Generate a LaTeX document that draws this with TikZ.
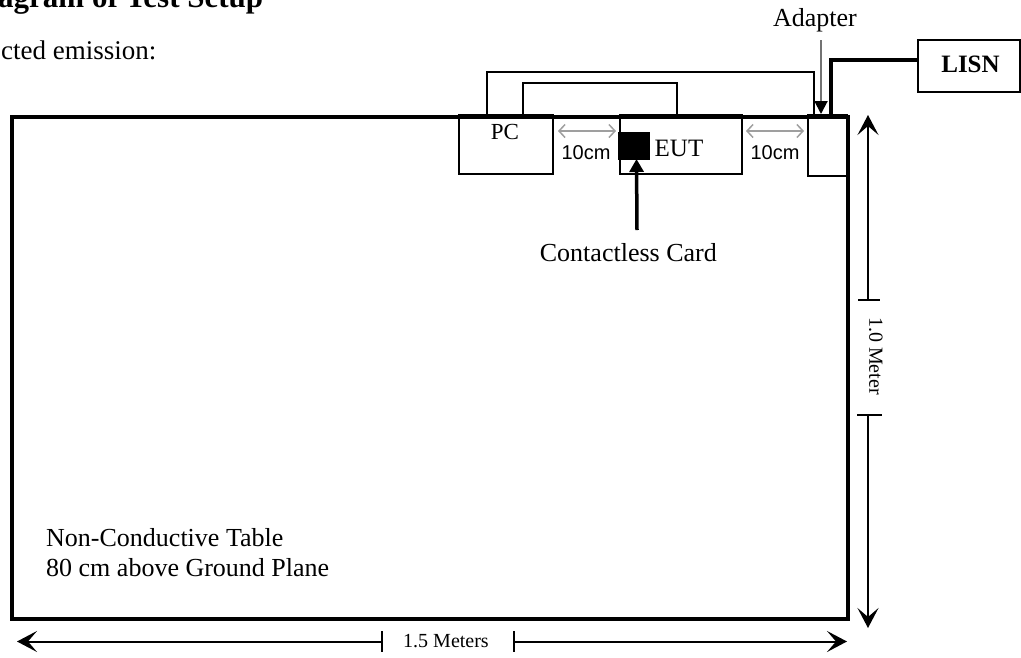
\documentclass[tikz,border=0pt]{standalone}
\usepackage{fontspec}
\setmainfont{Liberation Serif}
\newfontfamily\arialf{Liberation Sans}
\usetikzlibrary{arrows.meta}
\begin{document}
\begin{tikzpicture}[x=1pt,y=-1pt,
  fs/.style={font=\fontsize{#1}{#1}\selectfont},
  fsb/.style={font=\bfseries\fontsize{#1}{#1}\selectfont},
  fsa/.style={font=\arialf\fontsize{#1}{#1}\selectfont},
  lbl/.style={inner sep=0pt},
  box/.style={draw, line width=2pt, inner sep=0pt, anchor=north west},
  cable/.style={line width=2pt},
  gaparrow/.style={draw=gray!75, line width=1.5pt,
    {Straight Barb[length=6pt,width=13pt]}-{Straight Barb[length=6pt,width=13pt]}},
  dimline/.style={line width=2pt},
  dimtip/.style={-{Stealth[length=20pt,width=21pt,inset=9pt]}},
  tick/.style={line width=2pt}
]
\useasboundingbox (0,0) rectangle (1021,657);

% title and heading texts
\node[lbl, fsb=31, anchor=base west] (title) at (-2,7.5) {agram of Test Setup};
\node[lbl, fs=27, anchor=base west] (sub) at (1,59.5) {cted emission:};

% table
\node[box, line width=3.5pt, minimum width=836pt, minimum height=502pt] (table) at (10,115) {};

% devices
\node[box, minimum width=94pt, minimum height=59pt] (pc) at (458,114) {};
\node[box, minimum width=122pt, minimum height=59pt] (eut) at (619,114) {};
\node[box, minimum width=39pt, minimum height=61pt] (adapter) at (807,114) {};
\node[box, minimum width=102pt, minimum height=52pt] (lisn) at (917,39) {};
\node[box, draw=black, fill=black, line width=0pt, minimum width=31pt, minimum height=27pt] (card) at (618,132) {};

% device labels
\node[lbl, fs=23, anchor=base] (pclbl) at (505,139) {PC};
\node[lbl, fs=25, anchor=base] (eutlbl) at (679,156.7) {EUT};
\node[lbl, fsb=25, anchor=base] (lisnlbl) at (970.5,72.3) {LISN};
\node[lbl, fs=26, anchor=base] (adlbl) at (815,26.7) {Adapter};
\node[lbl, fs=26, anchor=base east] (cardlbl) at (717,261.7) {Contactless Card};
\node[lbl, fsa=20, anchor=base] (gap1) at (586,159.3) {10cm};
\node[lbl, fsa=20, anchor=base] (gap2) at (775,159.3) {10cm};
\node[lbl, fs=26, anchor=base west] (tbl1) at (46,546) {Non-Conductive Table};
\node[lbl, fs=26, anchor=base west] (tbl2) at (46,576) {80 cm above Ground Plane};

% cables
\draw[cable] ([xshift=29pt]pc.north west) -- ++(0,-42.5) -| ([xshift=7pt]adapter.north west);
\draw[cable] ([xshift=65pt]pc.north west) -- ++(0,-31.5) -| ([xshift=58pt]eut.north west);
\draw[line width=4pt] ([xshift=24pt]adapter.north west) |- ([yshift=6pt]lisn.west);

% adapter pointer
\coordinate (adtail) at (821,40);
\draw[draw=black!55, line width=2pt, -{Triangle[length=13pt,width=13pt,color=black]}]
  (adtail) -- ([xshift=14pt]adapter.north west);

% contactless card pointer
\coordinate (cardtail) at (637,230);
\draw[line width=3.5pt, -{Triangle[length=13pt,width=14pt]}]
  (cardtail) -- ([xshift=3pt]card.south);

% 10cm gap arrows
\draw[gaparrow] ([shift={(4,17)}]pc.north east) -- ([shift={(-3,17)}]eut.north west);
\draw[gaparrow] ([shift={(3,17)}]eut.north east) -- ([shift={(-3,17)}]adapter.north west);

% vertical dimension (1.0 Meter)
\coordinate (vtop) at (868,115);
\coordinate (vt1) at (868,300);
\coordinate (vt2) at (868,415);
\coordinate (vbot) at (868,628);
\draw[dimline, dimtip] (vt1) -- (vtop);
\draw[dimline, dimtip] (vt2) -- (vbot);
\draw[tick] ([xshift=-10pt]vt1) -- ([xshift=12pt]vt1);
\draw[tick] ([xshift=-11pt]vt2) -- ([xshift=14pt]vt2);
\node[lbl, fs=20, rotate=-90] (vlbl) at (876,356) {1.0 Meter};

% horizontal dimension (1.5 Meters)
\coordinate (hl) at (17,641.5);
\coordinate (ht1) at (381.5,641.5);
\coordinate (ht2) at (513.7,641.5);
\coordinate (hr) at (847,641.5);
\draw[dimline, dimtip] (ht1) -- (hl);
\draw[dimline, dimtip] (ht2) -- (hr);
\draw[tick] ([yshift=10.5pt]ht1) -- ([yshift=-10.5pt]ht1);
\draw[tick] ([yshift=10.5pt]ht2) -- ([yshift=-10.5pt]ht2);
\node[lbl, fs=20, anchor=base] (hlbl) at (446,647) {1.5 Meters};
\end{tikzpicture}
\end{document}
